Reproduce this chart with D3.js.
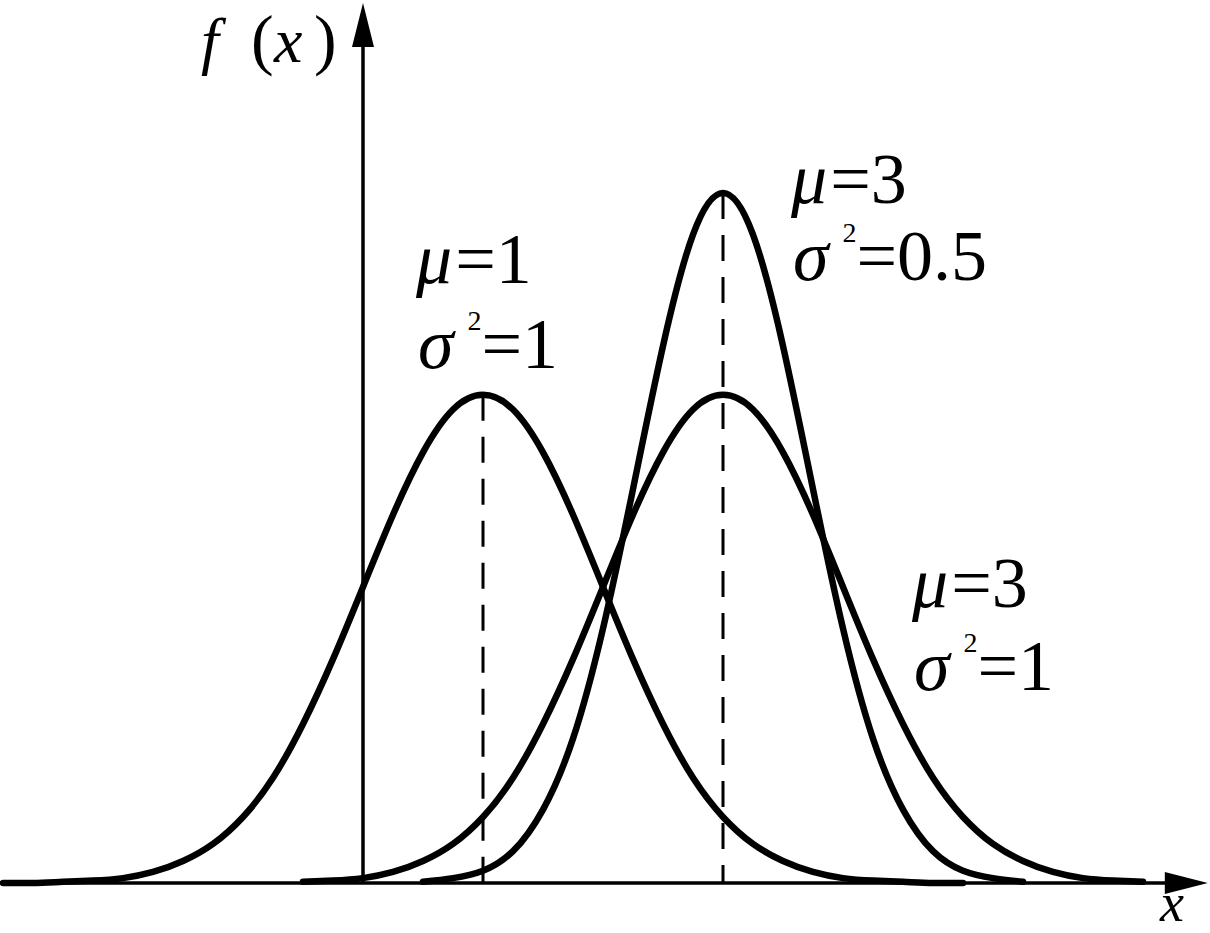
<!DOCTYPE html>
<html>
<head>
<meta charset="utf-8">
<script src="https://cdn.jsdelivr.net/npm/d3@7"></script>
<style>
  body { margin: 0; background: #fff; }
  svg { display: block; }
</style>
</head>
<body>
<div class="chart"></div>
<script>
// values (x in units, f(x) as density)
const curveA_x = [-3, -2.75, -2.5, -2.25, -2, -1.75, -1.5, -1.25, -1, -0.75, -0.5, -0.25, 0, 0.25, 0.5, 0.75, 1,
  1.25, 1.5, 1.75, 2, 2.25, 2.5, 2.75, 3, 3.25, 3.5, 3.75, 4, 4.25, 4.5, 4.75, 5]
const curveA_y = [0.000, 0.000, 0.001, 0.002, 0.004, 0.009, 0.018, 0.032, 0.054, 0.086, 0.130, 0.183, 0.242, 0.301, 0.352, 0.387, 0.399,
  0.387, 0.352, 0.301, 0.242, 0.183, 0.130, 0.086, 0.054, 0.032, 0.018, 0.009, 0.004, 0.002, 0.001, 0.000, 0.000]

const curveB_x = [-0.5, -0.25, 0, 0.25, 0.5, 0.75, 1, 1.25, 1.5, 1.75, 2, 2.25, 2.5, 2.75, 3,
  3.25, 3.5, 3.75, 4, 4.25, 4.5, 4.75, 5, 5.25, 5.5, 5.75, 6, 6.25, 6.5]
const curveB_y = [0.001, 0.002, 0.004, 0.009, 0.018, 0.032, 0.054, 0.086, 0.130, 0.183, 0.242, 0.301, 0.352, 0.387, 0.399,
  0.387, 0.352, 0.301, 0.242, 0.183, 0.130, 0.086, 0.054, 0.032, 0.018, 0.009, 0.004, 0.002, 0.001]

const curveC_x = [0.5, 0.75, 1, 1.25, 1.5, 1.75, 2, 2.25, 2.5, 2.75, 3,
  3.25, 3.5, 3.75, 4, 4.25, 4.5, 4.75, 5, 5.25, 5.5]
const curveC_y = [0.001, 0.004, 0.010, 0.026, 0.060, 0.118, 0.208, 0.322, 0.439, 0.530, 0.564,
  0.530, 0.439, 0.322, 0.208, 0.118, 0.060, 0.026, 0.010, 0.004, 0.001]

// peaks that get a dashed drop line
const peaks_x = [1, 3]
const peaks_y = [0.399, 0.564]

// label text: [mu, sigma^2]
const labelMu = ["1", "3", "3"]
const labelSigma = ["1", "0.5", "1"]

const width = 1210, height = 933

const svg = d3.select(".chart").append("svg")
  .attr("width", width)
  .attr("height", height)

const X = d3.scaleLinear()
  .domain([-3.025, 6.725])
  .range([0, 1170])

const Y = d3.scaleLinear()
  .domain([0, 0.564])
  .range([883, 193])

const font = "'Liberation Serif', 'Times New Roman', serif"

// axes
const xEnd = 7.04, yEnd = 0.7193
svg.append("line")
  .attr("x1", X(-3.025)).attr("y1", Y(0))
  .attr("x2", X(xEnd) - 40).attr("y2", Y(0))
  .attr("stroke", "black").attr("stroke-width", 3.5)
svg.append("path")
  .attr("d", `M${X(xEnd)},${Y(0)} L${X(xEnd) - 43},${Y(0) - 11} L${X(xEnd) - 43},${Y(0) + 11} Z`)
  .attr("fill", "black")

svg.append("line")
  .attr("x1", X(0)).attr("y1", Y(0))
  .attr("x2", X(0)).attr("y2", Y(yEnd) + 40)
  .attr("stroke", "black").attr("stroke-width", 3.5)
svg.append("path")
  .attr("d", `M${X(0)},${Y(yEnd)} L${X(0) - 11},${Y(yEnd) + 44} L${X(0) + 11},${Y(yEnd) + 44} Z`)
  .attr("fill", "black")

// dashed drop lines
svg.append("g")
  .selectAll("line")
  .data(peaks_x)
  .enter()
  .append("line")
  .attr("x1", d => X(d)).attr("x2", d => X(d))
  .attr("y1", (d, i) => Y(peaks_y[i])).attr("y2", Y(0))
  .attr("stroke", "black")
  .attr("stroke-width", 3)
  .attr("stroke-dasharray", "26,16")

// curves
const line = d3.line()
  .x(d => X(d[0]))
  .y(d => Y(d[1]))
  .curve(d3.curveNatural)

const curves = [
  d3.zip(curveA_x, curveA_y),
  d3.zip(curveB_x, curveB_y),
  d3.zip(curveC_x, curveC_y)
]

svg.append("g")
  .selectAll("path")
  .data(curves)
  .enter()
  .append("path")
  .attr("d", line)
  .attr("fill", "none")
  .attr("stroke", "black")
  .attr("stroke-width", 6.5)
  .attr("stroke-linecap", "round")
  .attr("stroke-linejoin", "round")

// axis titles
const fx = svg.append("text")
  .attr("y", 62)
  .attr("font-family", font)
  .attr("font-size", 64)
fx.append("tspan").attr("x", 201).attr("font-style", "italic").text("f")
fx.append("tspan").attr("x", 251).attr("font-size", 68).text("(")
fx.append("tspan").attr("x", 274).attr("font-style", "italic").text("x")
fx.append("tspan").attr("x", 314).attr("font-size", 68).text(")")

svg.append("text")
  .attr("x", 1160)
  .attr("y", 921)
  .attr("font-family", font)
  .attr("font-size", 54)
  .attr("font-style", "italic")
  .text("x")

// parameter labels
const labelPos = [
  {x: 416, y1: 283, y2: 368},
  {x: 791, y1: 203, y2: 280},
  {x: 912, y1: 607, y2: 690}
]

labelPos.forEach(function(p, i) {
  const t1 = svg.append("text")
    .attr("x", p.x).attr("y", p.y1)
    .attr("font-family", font)
    .attr("font-size", 72)
  t1.append("tspan").attr("font-style", "italic").text("μ")
  t1.append("tspan").attr("dx", 3).text("=" + labelMu[i])

  const t2 = svg.append("text")
    .attr("x", p.x + 2).attr("y", p.y2)
    .attr("font-family", font)
    .attr("font-size", 72)
  t2.append("tspan").attr("font-style", "italic").text("σ")
  t2.append("tspan").attr("font-size", 28).attr("dx", 14).attr("dy", -38).text("2")
  t2.append("tspan").attr("dy", 38).text("=" + labelSigma[i])
})
</script>
</body>
</html>
